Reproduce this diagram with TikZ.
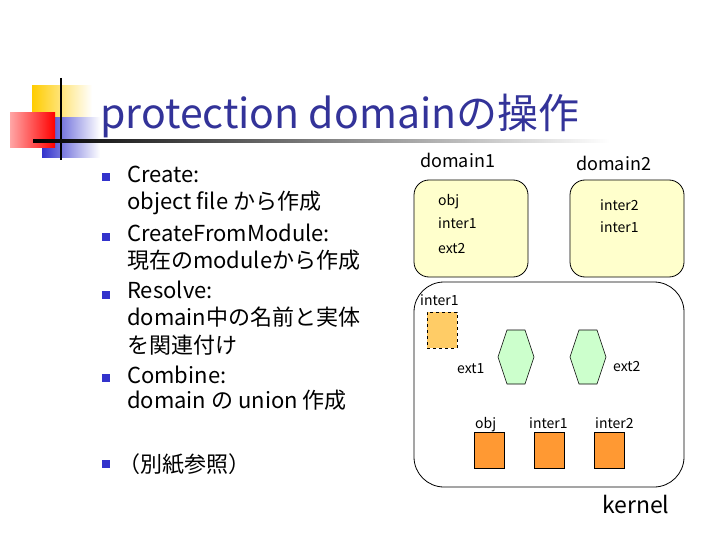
\documentclass[tikz,border=0pt]{standalone}
\usepackage{fontspec}
\setmainfont{Noto Sans CJK JP}
\usetikzlibrary{positioning}
\definecolor{titleblue}{RGB}{51,51,153}
\definecolor{bulletblue}{RGB}{51,51,204}
\definecolor{domfill}{RGB}{255,255,204}
\definecolor{hexfill}{RGB}{204,255,204}
\definecolor{objfill}{RGB}{255,153,51}
\definecolor{ghostfill}{RGB}{255,204,102}
\definecolor{logoyellow}{RGB}{255,204,0}
\definecolor{logored}{RGB}{255,0,0}
\definecolor{logoblue}{RGB}{51,51,204}

\tikzset{
  domainbox/.style={draw, line width=0.8pt, fill=domfill, rounded corners=15pt, minimum width=114pt, minimum height=97pt},
  objbox/.style={draw, line width=0.6pt, fill=objfill, minimum width=30pt, minimum height=36pt, inner sep=0pt},
  bulletsq/.style={fill=bulletblue, minimum size=8pt, inner sep=0pt},
  bullettext/.style={anchor=base west, inner sep=0pt, font=\fontsize{22}{26}\selectfont},
  lbl/.style={anchor=base west, inner sep=0pt, font=\fontsize{14}{16}\selectfont},
  domlabel/.style={anchor=base west, inner sep=0pt, font=\fontsize{18}{22}\selectfont},
}

\begin{document}
\begin{tikzpicture}[x=1pt,y=-1pt]
    \useasboundingbox (0,0) rectangle (720,540);

    % Logo squares and lines
    \shade[left color=logoyellow, middle color=logoyellow, right color=white] (32,86) rectangle (92,137);
    \shade[left color=logoblue, middle color=logoblue, right color=white] (42,118) rectangle (100,158);
    \shade[left color=logored!35, right color=logored] (10,113) rectangle (55,148);
    \draw[line width=2.5pt] (61,78) -- (61,160);
    \shade[left color=black, right color=white] (33,139.8) rectangle (610,142.4);

    % Title
    \node[anchor=base west, inner sep=0pt, text=titleblue, font=\fontsize{41}{48}\selectfont] (title) at (100,129) {protection domainの操作};

    % Bullets
    \foreach \y [count=\i] in {177,237,295,378,464}
        \node[bulletsq] (b\i) at (105.5,\y) {};
    \node[bullettext] (create) at (127,183) {Create:};
    \node[bullettext] (createtxt) at (127,210) {object file から作成};
    \node[bullettext] (frommod) at (127,241) {CreateFromModule:};
    \node[bullettext] (frommodtxt) at (127,268) {現在のmoduleから作成};
    \node[bullettext] (resolve) at (127,298) {Resolve:};
    \node[bullettext] (resolvetxt) at (127,325) {domain中の名前と実体};
    \node[bullettext] (resolvetxtb) at (127,353) {を関連付け};
    \node[bullettext] (combine) at (127,383) {Combine:};
    \node[bullettext] (combinetxt) at (127,408) {domain の union 作成};
    \node[bullettext] (seealso) at (118,472) {（別紙参照）};

    % Domains
    \node[domlabel] (dom1lbl) at (420,168) {domain1};
    \node[domlabel] (dom2lbl) at (576,171) {domain2};
    \node[domainbox] (dom1) at (471,228.5) {};
    \node[domainbox] (dom2) at (627,228.5) {};
    \node[lbl] (d1obj) at (438,206) {obj};
    \node[lbl] (d1inter) at (438,229) {inter1};
    \node[lbl] (d1ext) at (438,253) {ext2};
    \node[lbl] (d2inter2) at (600,211) {inter2};
    \node[lbl] (d2inter1) at (600,233) {inter1};

    % Kernel
    \node[draw, line width=0.8pt, rounded corners=30pt, minimum width=270pt, minimum height=205pt] (kernel) at (549,384.5) {};
    \node[lbl] (kinter) at (420,305) {inter1};
    \node[draw, dashed, line width=0.6pt, fill=ghostfill, minimum width=30pt, minimum height=36pt, inner sep=0pt] (ghost) at (442,330) {};
    \foreach \cx/\nm in {516/hexa, 588/hexb} {
        \draw[line width=0.6pt, fill=hexfill] ({\cx-9},330) -- ({\cx+9},330) -- ({\cx+18},357) -- ({\cx+9},384) -- ({\cx-9},384) -- ({\cx-18},357) -- cycle;
        \coordinate (\nm) at (\cx,357);
    }
    \node[lbl] (kext1) at (457,373) {ext1};
    \node[lbl] (kext2) at (613,371) {ext2};
    \node[objbox] (kobj) at (489,450) {};
    \node[objbox] (kinter1) at (549,450) {};
    \node[objbox] (kinter2) at (609,450) {};
    \node[lbl] (kobjlbl) at (475,428) {obj};
    \node[lbl] (kinter1lbl) at (529,428) {inter1};
    \node[lbl] (kinter2lbl) at (595,428) {inter2};
    \node[anchor=base west, inner sep=0pt, font=\fontsize{23}{26}\selectfont] (kernellbl) at (602,513) {kernel};
\end{tikzpicture}
\end{document}
